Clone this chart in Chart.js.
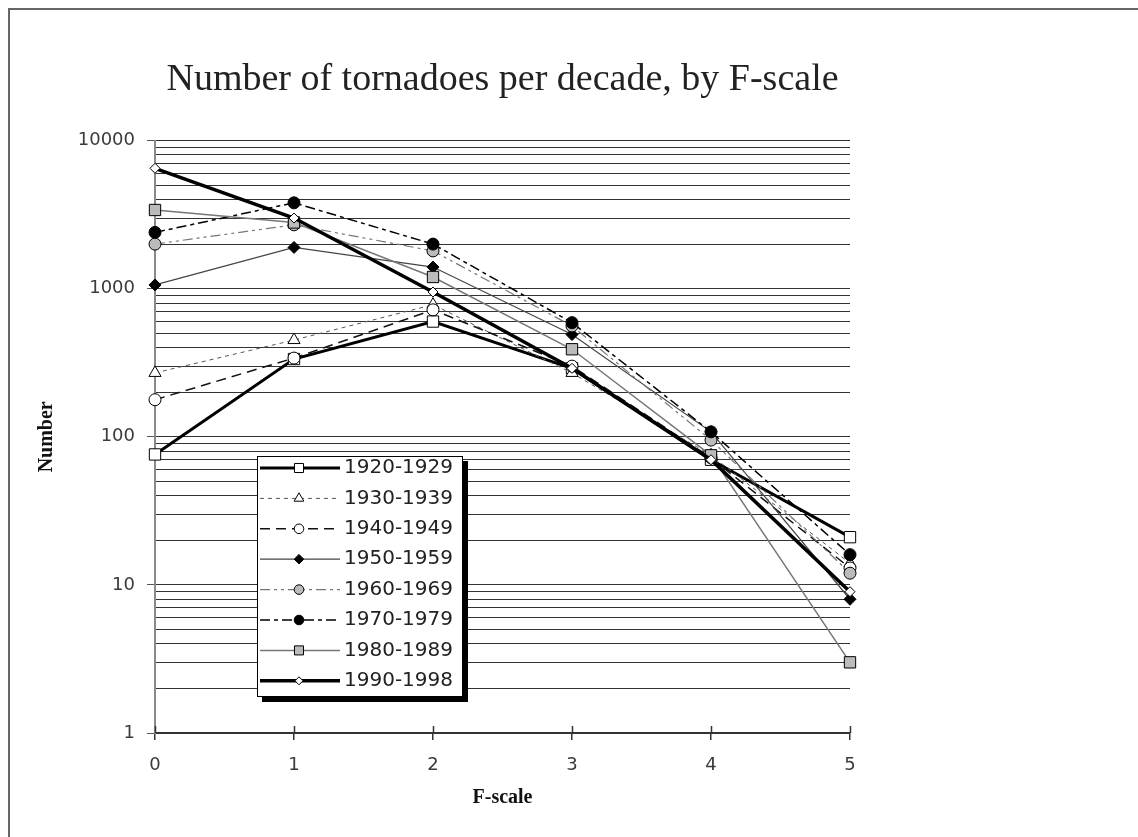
<!DOCTYPE html>
<html>
<head>
<meta charset="utf-8">
<script src="https://cdn.jsdelivr.net/npm/chart.js@4.4.1/dist/chart.umd.min.js"></script>
<style>
html, body { margin: 0; padding: 0; background: #fff; overflow: hidden; }
#frame { position: absolute; left: 8px; top: 8px; width: 1300px; height: 1000px; border-left: 2px solid #666; border-top: 2px solid #666; }
#wrap { position: absolute; left: 0; top: 0; width: 1138px; height: 837px; }
</style>
</head>
<body>
<div id="frame"></div>
<div id="wrap"><canvas id="chartJSContainer" width="1138" height="837"></canvas></div>
<script>
// F-scale categories and tornado counts per decade
const fScale = [0, 1, 2, 3, 4, 5];
const decades = ['1920-1929', '1930-1939', '1940-1949', '1950-1959', '1960-1969', '1970-1979', '1980-1989', '1990-1998'];

const n1920 = [76, 335, 600, 290, 70, 21];
const n1930 = [270, 450, 780, 270, 75, 14];
const n1940 = [178, 340, 720, 300, 72, 13];
const n1950 = [1060, 1900, 1400, 490, 108, 8];
const n1960 = [2000, 2700, 1800, 560, 95, 12];
const n1970 = [2400, 3800, 2000, 590, 108, 16];
const n1980 = [3400, 2800, 1200, 390, 75, 3];
const n1990 = [6500, 3000, 950, 290, 70, 9];

const yTickLabels = [1, 10, 100, 1000, 10000];

// minor grid lines 1..9 in every decade
let yGridValues = [];
yTickLabels.forEach(p => {
    if (p === 10000) { yGridValues.push(p); return; }
    for (let m = 1; m < 10; m++) yGridValues.push(m * p);
});

const tickFont = { family: '"DejaVu Sans"', size: 18 };
const tickColor = '#3a3a3a';

function series(label, vals, style) {
    return Object.assign({
        label: label,
        data: fScale.map((f, i) => ({ x: f, y: vals[i] })),
        tension: 0,
        fill: false,
        clip: false,
        pointBorderColor: '#000',
        pointBorderWidth: 1,
        pointHoverRadius: 0
    }, style);
}

const datasets = [
    series(decades[0], n1920, { borderColor: '#000', borderWidth: 3, pointStyle: 'rect', pointRadius: 8, pointBackgroundColor: '#fff' }),
    series(decades[1], n1930, { borderColor: '#555', borderWidth: 1, borderDash: [4, 4], pointStyle: 'triangle', pointRadius: 7, pointBackgroundColor: '#fff' }),
    series(decades[2], n1940, { borderColor: '#111', borderWidth: 1.5, borderDash: [10, 6], pointStyle: 'circle', pointRadius: 6, pointBackgroundColor: '#fff' }),
    series(decades[3], n1950, { borderColor: '#444', borderWidth: 1.2, pointStyle: 'rectRot', pointRadius: 6, pointBackgroundColor: '#000' }),
    series(decades[4], n1960, { borderColor: '#777', borderWidth: 1.2, borderDash: [10, 4, 3, 4, 3, 4], pointStyle: 'circle', pointRadius: 6, pointBackgroundColor: '#bbb' }),
    series(decades[5], n1970, { borderColor: '#000', borderWidth: 1.5, borderDash: [10, 4, 4, 4], pointStyle: 'circle', pointRadius: 6, pointBackgroundColor: '#000' }),
    series(decades[6], n1980, { borderColor: '#777', borderWidth: 1.5, pointStyle: 'rect', pointRadius: 8, pointBackgroundColor: '#bbb' }),
    series(decades[7], n1990, { borderColor: '#000', borderWidth: 3.5, pointStyle: 'rectRot', pointRadius: 5, pointBackgroundColor: '#fff' })
];
// later decades drawn on top, like the original
datasets.forEach((d, i) => { d.order = datasets.length - i; });

// boxed legend with drop shadow, sitting inside the plot
const boxLegend = {
    id: 'boxLegend',
    afterDatasetsDraw(chart) {
        const ctx = chart.ctx;
        const L = 257, T = 456, W = 206, H = 241;
        ctx.save();
        ctx.fillStyle = '#000';
        ctx.fillRect(L + 5, T + 5, W, H);
        ctx.fillStyle = '#fff';
        ctx.fillRect(L, T, W, H);
        ctx.strokeStyle = '#000';
        ctx.lineWidth = 1;
        ctx.strokeRect(L + 0.5, T + 0.5, W - 1, H - 1);
        chart.data.datasets.forEach((ds, i) => {
            const y = T + 12 + i * 30.4;
            ctx.setLineDash(ds.borderDash || []);
            ctx.lineWidth = ds.borderWidth;
            ctx.strokeStyle = ds.borderColor;
            ctx.beginPath();
            ctx.moveTo(L + 3, y);
            ctx.lineTo(L + 83, y);
            ctx.stroke();
            ctx.setLineDash([]);
            ctx.fillStyle = ds.pointBackgroundColor;
            ctx.strokeStyle = '#000';
            ctx.lineWidth = 1;
            Chart.helpers.drawPoint(ctx, { pointStyle: ds.pointStyle, radius: ds.pointRadius * 0.8, rotation: 0, borderWidth: 1 }, L + 42, y);
            ctx.fillStyle = '#222';
            ctx.font = '20px "DejaVu Sans"';
            ctx.textBaseline = 'middle';
            ctx.fillText(ds.label, L + 87, y);
        });
        ctx.restore();
    }
};

// x ticks in the original cross the axis line
const crossTicks = {
    id: 'crossTicks',
    afterDraw(chart) {
        const ctx = chart.ctx, xs = chart.scales.x, b = chart.chartArea.bottom;
        ctx.save();
        ctx.strokeStyle = '#333';
        ctx.lineWidth = 1.5;
        fScale.forEach(f => {
            const px = Math.round(xs.getPixelForValue(f)) + 0.5;
            ctx.beginPath();
            ctx.moveTo(px, b - 7);
            ctx.lineTo(px, b);
            ctx.stroke();
        });
        ctx.restore();
    }
};

let options = {
    type: 'line',
    data: { datasets: datasets },
    options: {
        responsive: false,
        animation: false,
        layout: { padding: { left: 10, right: 288, top: 0, bottom: 22 } },
        plugins: {
            legend: { display: false },
            tooltip: { enabled: false },
            title: {
                display: true,
                fullSize: false,
                text: 'Number of tornadoes per decade, by F-scale',
                color: '#222',
                font: { family: '"Liberation Serif"', size: 38, weight: 'normal' },
                padding: { top: 57, bottom: 38 }
            }
        },
        scales: {
            x: {
                type: 'linear',
                min: 0,
                max: 5,
                afterFit: s => { s.height = 82; },
                ticks: { stepSize: 1, font: tickFont, color: tickColor, padding: 15 },
                grid: { drawOnChartArea: false, tickLength: 7, color: '#333', lineWidth: 1.5 },
                border: { color: '#333', width: 2 },
                title: {
                    display: true,
                    text: 'F-scale',
                    color: '#111',
                    font: { family: '"Liberation Serif"', size: 20, weight: 'bold' },
                    padding: { top: 6, bottom: 5 }
                }
            },
            y: {
                type: 'logarithmic',
                min: 1,
                max: 10000,
                afterFit: s => { s.width = 145; },
                afterBuildTicks: s => { s.ticks = yGridValues.map(v => ({ value: v })); },
                ticks: {
                    autoSkip: false,
                    font: tickFont,
                    color: tickColor,
                    padding: 12,
                    callback: v => yTickLabels.includes(v) ? String(v) : ''
                },
                grid: {
                    color: '#333',
                    lineWidth: 1,
                    tickLength: 8,
                    tickColor: c => (c.tick && yTickLabels.includes(c.tick.value)) ? '#555' : 'rgba(0,0,0,0)'
                },
                border: { color: '#8a8a8a', width: 2 },
                title: {
                    display: true,
                    text: 'Number',
                    color: '#111',
                    font: { family: '"Liberation Serif"', size: 20, weight: 'bold' },
                    padding: { top: 25, bottom: 0 }
                }
            }
        }
    },
    plugins: [boxLegend, crossTicks]
};

let ctx = document.getElementById('chartJSContainer').getContext('2d');
window.chart = new Chart(ctx, options);
</script>
</body>
</html>
